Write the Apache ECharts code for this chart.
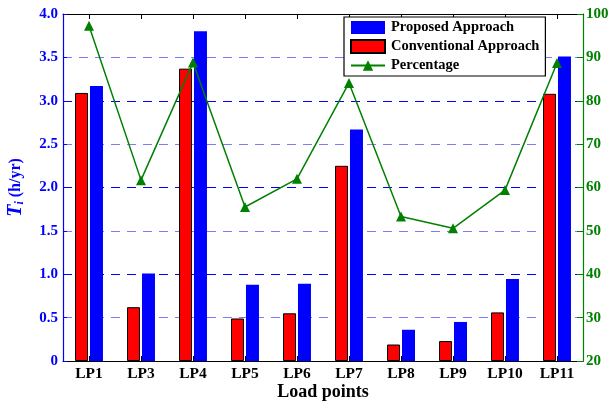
<!DOCTYPE html>
<html>
<head>
<meta charset="utf-8">
<script src="https://cdn.jsdelivr.net/npm/echarts@6/dist/echarts.min.js"></script>
<style>html,body{margin:0;padding:0;background:#fff}#c{width:612px;height:403px}</style>
</head>
<body>
<div id="c"></div>
<script>
var categories = ['LP1','LP3','LP4','LP5','LP6','LP7','LP8','LP9','LP10','LP11'];
var conventional = [3.09, 0.62, 3.37, 0.49, 0.55, 2.25, 0.19, 0.23, 0.56, 3.08];
var proposed = [3.17, 1.01, 3.80, 0.88, 0.89, 2.67, 0.36, 0.45, 0.945, 3.51];
var percentage = [97.3, 61.7, 88.8, 55.5, 62.0, 84.1, 53.3, 50.6, 59.4, 88.7];
var leftTicks = {min: 0, max: 4, interval: 0.5};
var rightTicks = {min: 20, max: 100, interval: 10};

var font = 'Liberation Serif, Times New Roman, serif';
var chart = echarts.init(document.getElementById('c'), null, {renderer: 'canvas'});
chart.setOption({
  animation: false,
  backgroundColor: '#fff',
  grid: {left: 63, right: 29, top: 14, bottom: 42, containLabel: false, outerBoundsMode: 'none'},
  legend: {
    data: [
      {name: 'Proposed Approach', icon: 'rect'},
      {name: 'Conventional Approach', icon: 'rect'},
      {name: 'Percentage'}
    ],
    orient: 'vertical',
    left: 344, top: 17,
    padding: [3, 6, 3, 6],
    itemGap: 4,
    itemWidth: 34, itemHeight: 13,
    borderColor: '#000', borderWidth: 1.2,
    backgroundColor: '#fff',
    textStyle: {fontFamily: font, fontWeight: 'bold', fontSize: 14.5, color: '#000', padding: [0,0,0,1]}
  },
  xAxis: [{
    type: 'category', data: categories, position: 'bottom',
    name: 'Load points', nameLocation: 'middle', nameGap: 22, nameMoveOverlap: false,
    nameTextStyle: {fontFamily: font, fontWeight: 'bold', fontSize: 18, color: '#000'},
    axisLine: {show: true, lineStyle: {color: '#000', width: 1.2}},
    axisTick: {show: true, inside: true, alignWithLabel: true, length: 5, lineStyle: {color: '#000'}},
    axisLabel: {fontFamily: font, fontWeight: 'bold', fontSize: 15.5, color: '#000', margin: 5},
    splitLine: {show: false}
  }, {
    type: 'category', data: categories, position: 'top',
    axisLine: {show: true, lineStyle: {color: '#000', width: 1.2}},
    axisTick: {show: true, inside: true, alignWithLabel: true, length: 5, lineStyle: {color: '#000'}},
    axisLabel: {show: false},
    splitLine: {show: false}
  }],
  yAxis: [{
    type: 'value', position: 'left',
    min: leftTicks.min, max: leftTicks.max, interval: leftTicks.interval,
    name: '{T|T}{i|i}{u| (h/yr)}', nameLocation: 'middle', nameGap: 37, nameRotate: 90,
    nameTextStyle: {
      color: '#0000ff', fontFamily: font, fontWeight: 'bold', fontSize: 16,
      rich: {
        T: {fontFamily: font, fontStyle: 'italic', fontWeight: 'bold', fontSize: 20, color: '#0000ff'},
        i: {fontFamily: font, fontStyle: 'italic', fontWeight: 'bold', fontSize: 12, color: '#0000ff', padding: [8, 0, 0, 0]},
        u: {fontFamily: font, fontWeight: 'bold', fontSize: 16, color: '#0000ff'}
      }
    },
    axisLine: {show: true, lineStyle: {color: '#0000ff', width: 1.2}},
    axisTick: {show: true, inside: true, length: 4, lineStyle: {color: '#0000ff'}},
    axisLabel: {fontFamily: font, fontWeight: 'bold', fontSize: 15, color: '#0000ff', margin: 5,
      formatter: function (v) { return v === 0 ? '0' : v.toFixed(1); }},
    splitLine: {show: true, lineStyle: {color: ['#0000ff', '#7b7bff'], type: [9, 7], width: 1.2}}
  }, {
    type: 'value', position: 'right',
    min: rightTicks.min, max: rightTicks.max, interval: rightTicks.interval,
    axisLine: {show: true, lineStyle: {color: '#008000', width: 1.2}},
    axisTick: {show: true, inside: true, length: 6, lineStyle: {color: '#008000'}},
    axisLabel: {fontFamily: font, fontWeight: 'bold', fontSize: 15, color: '#008000', margin: 3},
    splitLine: {show: false}
  }],
  series: [{
    name: 'Conventional Approach', type: 'bar', xAxisIndex: 0, yAxisIndex: 0,
    data: conventional, barWidth: 13, barGap: '15%',
    itemStyle: {color: '#ff0000', borderColor: '#000', borderWidth: 1}
  }, {
    name: 'Proposed Approach', type: 'bar', xAxisIndex: 0, yAxisIndex: 0,
    data: proposed, barWidth: 13, barGap: '15%',
    itemStyle: {color: '#0000ff'}
  }, {
    name: 'Percentage', type: 'line', xAxisIndex: 0, yAxisIndex: 1,
    data: percentage, symbol: 'triangle', symbolSize: 10,
    lineStyle: {color: '#008000', width: 1.5},
    itemStyle: {color: '#008000'}
  }]
});
</script>
</body>
</html>
